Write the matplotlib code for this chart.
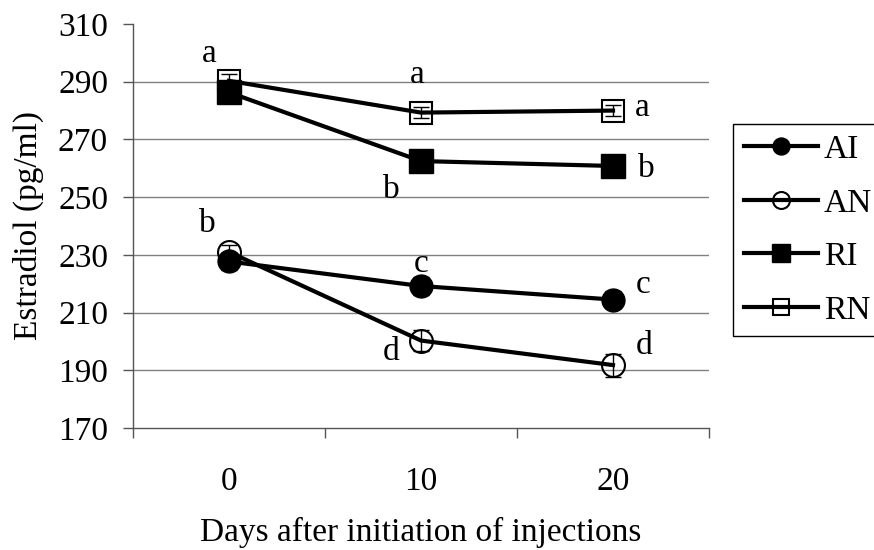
import matplotlib
matplotlib.use("Agg")
import matplotlib.pyplot as plt
import numpy as np

plt.rcParams['font.family'] = ['Liberation Serif', 'DejaVu Serif']

# ---- data ----
days = ['0', '10', '20']
series_names = ['AI', 'AN', 'RI', 'RN']
AI = [227.7, 219.2, 214.5]
AN = [231.0, 200.3, 191.8]
RI = [286.3, 262.5, 260.8]
RN = [290.3, 279.3, 280.0]
AI_err = [3.0, 3.0, 3.0]
AN_err = [2.5, 3.5, 4.0]
RI_err = [2.0, 2.0, 2.0]
RN_err = [2.4, 2.0, 2.0]
AI_letters = [None, 'c', 'c']
AN_letters = ['b', 'd', 'd']
RI_letters = [None, 'b', 'b']
RN_letters = ['a', 'a', 'a']
yticks = [170, 190, 210, 230, 250, 270, 290, 310]
y_label = 'Estradiol (pg/ml)'
x_label = 'Days after initiation of injections'

FS = 24

# ---- layout / styles ----
W, H, DPI = 874, 550, 100
fig = plt.figure(figsize=(W / DPI, H / DPI), dpi=DPI)
L, R, T, B = 133, 709, 24, 428
ax = fig.add_axes([L / W, (H - B) / H, (R - L) / W, (B - T) / H])

axcol = '#555555'
x = np.arange(len(days))

styles = {
    'AI': dict(marker='o', ms=16.5, mfc='black', mec='black', mew=1, z=6),
    'AN': dict(marker='o', ms=16.5, mfc='none', mec='black', mew=1.5, z=5),
    'RI': dict(marker='s', ms=17.5, mfc='black', mec='black', mew=1, z=6),
    'RN': dict(marker='s', ms=16.5, mfc='none', mec='black', mew=1.5, z=5),
}
# letter offsets (pixels: dx right, dy up) relative to each point, baseline anchored
offsets = {
    'AI': [None, (0, 14), (30, 7)],
    'AN': [(-22, 20), (-30, -19), (31, 11)],
    'RI': [None, (-30, -37), (33, -11)],
    'RN': [(-20, 19), (-4, 30), (29, -5)],
}
data = {'AI': (AI, AI_err, AI_letters), 'AN': (AN, AN_err, AN_letters),
        'RI': (RI, RI_err, RI_letters), 'RN': (RN, RN_err, RN_letters)}

handles = []
for name in series_names:
    vals, err, letters = data[name]
    st = styles[name]
    ln, = ax.plot(x, vals, color='black', lw=3, marker=st['marker'], ms=st['ms'],
                  mfc=st['mfc'], mec=st['mec'], mew=st['mew'], zorder=st['z'],
                  label=name, clip_on=False)
    ax.errorbar(x, vals, yerr=err, fmt='none', ecolor='black', elinewidth=1,
                capsize=6, capthick=1, zorder=st['z'] + 0.5, clip_on=False)
    handles.append(ln)
    for i, let in enumerate(letters):
        if let is None:
            continue
        dx, dy = offsets[name][i]
        ax.annotate(let, (x[i], vals[i]), xytext=(dx * 0.72, dy * 0.72),
                    textcoords='offset points', ha='center', va='baseline',
                    fontsize=FS, zorder=10)

ax.set_xlim(-0.5, len(days) - 0.5)
ax.set_ylim(yticks[0], yticks[-1])
ax.set_yticks(yticks)
ax.set_yticklabels([str(v) for v in yticks], fontsize=FS)
ax.set_xticks(x)
ax.set_xticklabels(days, fontsize=FS)
ax.set_xticks(np.arange(-0.5, len(days), 1.0), minor=True)
ax.tick_params(axis='x', which='major', length=0, pad=28)
ax.tick_params(axis='x', which='minor', length=7.2, direction='out', color=axcol, width=1)
ax.tick_params(axis='y', which='major', length=7.2, direction='out', color=axcol, width=1, pad=10.8)

for yv in yticks[1:-1]:
    ax.axhline(yv, color='#808080', lw=1, zorder=1)

for s in ['top', 'right']:
    ax.spines[s].set_visible(False)
for s in ['left', 'bottom']:
    ax.spines[s].set_color(axcol)
    ax.spines[s].set_linewidth(1)

ax.set_xlabel(x_label, fontsize=FS)
ax.xaxis.label.set_va('baseline')
ax.xaxis.set_label_coords(0.5, (H - 541 - (H - B)) / (B - T))
ax.set_ylabel(y_label, fontsize=FS)
ax.yaxis.label.set_va('center')
ax.yaxis.set_label_coords((28 - L) / (R - L), (H - 225 - (H - B)) / (B - T))

leg = fig.legend(handles=handles, labels=series_names, loc='upper left',
                 bbox_to_anchor=(733 / W, 1 - 124 / H), bbox_transform=fig.transFigure,
                 fontsize=FS, frameon=True, fancybox=False, framealpha=1,
                 edgecolor='black', borderpad=0.32, borderaxespad=0,
                 labelspacing=0.69, handlelength=2.22, handletextpad=0.18,
                 markerscale=0.74)
leg.get_frame().set_linewidth(1)

fig.savefig('out.png', dpi=DPI)
